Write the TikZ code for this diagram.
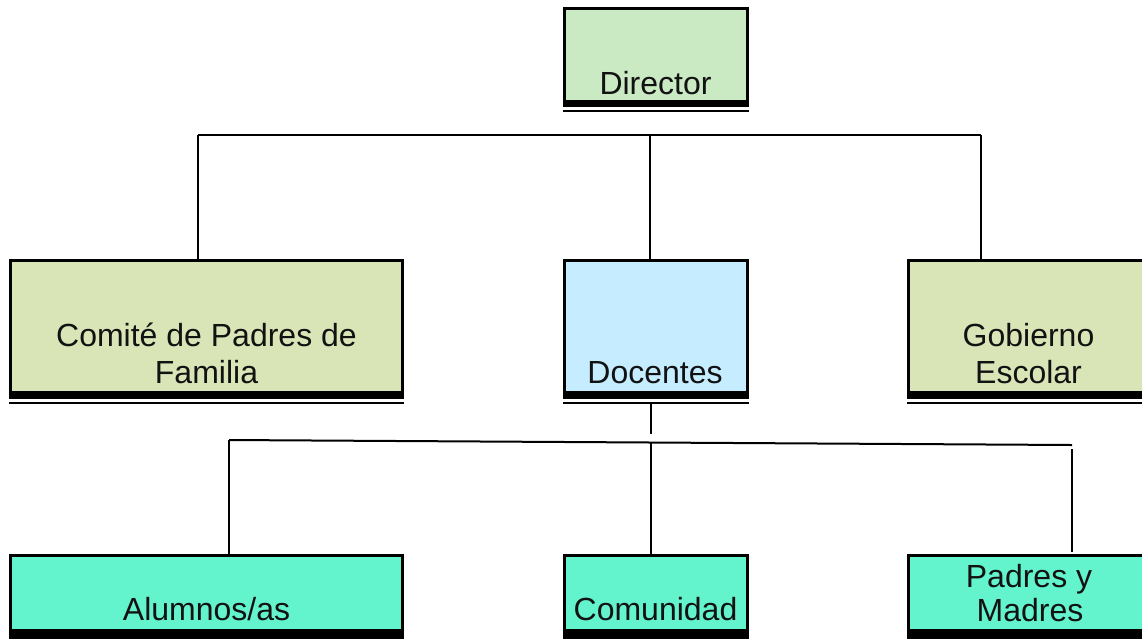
\documentclass[tikz,border=0pt]{standalone}
\usepackage{fontspec}
\setmainfont{Liberation Sans}
\definecolor{cdir}{RGB}{202,234,196}
\definecolor{colive}{RGB}{218,229,183}
\definecolor{cblue}{RGB}{197,236,255}
\definecolor{caqua}{RGB}{99,243,205}
\begin{document}
\begin{tikzpicture}[x=1pt,y=-1pt,
  box/.style={draw=black, line width=3pt, rectangle, inner sep=0pt, outer sep=0pt, anchor=north west},
  lbl/.style={font=\fontsize{32}{37}\selectfont, text=black!93, align=center, inner sep=0pt, text depth=0pt, anchor=south},
  band/.style={fill=black},
  rulel/.style={line width=2pt},
  link/.style={line width=2pt, draw=black}]
\useasboundingbox (0,0) rectangle (1142,638);
% ---- Director
\node[box, fill=cdir, minimum width=183, minimum height=93] (dir) at (564.5,8.5) {};
\fill[band] (563,100) rectangle (749,106.5);
\draw[rulel] (563,110.5) -- (749,110.5);
\node[lbl] (dirt) at (655.5,95) {Director};
% ---- second row
\node[box, fill=colive, minimum width=392, minimum height=132] (com) at (10.5,260.5) {};
\node[box, fill=cblue, minimum width=183, minimum height=132] (doc) at (564.5,260.5) {};
\node[box, fill=colive, minimum width=242, minimum height=132] (gob) at (908.5,260.5) {};
\fill[band] (9,391) rectangle (404,398.5);
\fill[band] (563,391) rectangle (749,398.5);
\fill[band] (907,391) rectangle (1160,398.5);
\draw[rulel] (9,402.5) -- (404,402.5);
\draw[rulel] (563,402.5) -- (749,402.5);
\draw[rulel] (907,402.5) -- (1160,402.5);
\node[lbl] (comt) at (206.5,383.5) {Comité de Padres de\\Familia};
\node[lbl] (doct) at (655,384) {Docentes};
\node[lbl] (gobt) at (1028.5,383.5) {Gobierno\\Escolar};
% ---- third row
\node[box, fill=caqua, minimum width=392, minimum height=76] (alu) at (10.5,555.5) {};
\node[box, fill=caqua, minimum width=183, minimum height=76] (comu) at (564.5,555.5) {};
\node[box, fill=caqua, minimum width=242, minimum height=76] (pad) at (908.5,555.5) {};
\fill[band] (9,629) rectangle (404,648);
\fill[band] (563,629) rectangle (749,648);
\fill[band] (907,629) rectangle (1160,648);
\node[lbl] (alut) at (206.5,621) {Alumnos/as};
\node[lbl] (comut) at (655.5,621) {Comunidad};
\node[lbl] (padt1) at (1029,588) {Padres y};
\node[lbl] (padt2) at (1030,622) {Madres};
% ---- connectors, upper level
\coordinate (t1) at (197.5,135);
\coordinate (t2) at (650,135);
\coordinate (t3) at (981,135);
\draw[link] (t1) -- (t3);
\draw[link] (t1) -- (t1 |- com.north);
\draw[link] (t2) -- (t2 |- doc.north);
\draw[link] (t3) -- (t3 |- gob.north);
% ---- connectors, lower level
\coordinate (s0) at (651,402);
\coordinate (s1) at (651,434);
\coordinate (b1) at (229,440);
\coordinate (b3) at (1072,445);
\coordinate (b2) at (651,442);
\coordinate (b3v) at (1072,449);
\draw[link] (s0) -- (s1);
\draw[link] (b1) -- (b3);
\draw[link] (b1) -- (b1 |- alu.north);
\draw[link] (b2) -- (b2 |- comu.north);
\draw[link] (b3v) -- (1072,552);
\end{tikzpicture}
\end{document}
